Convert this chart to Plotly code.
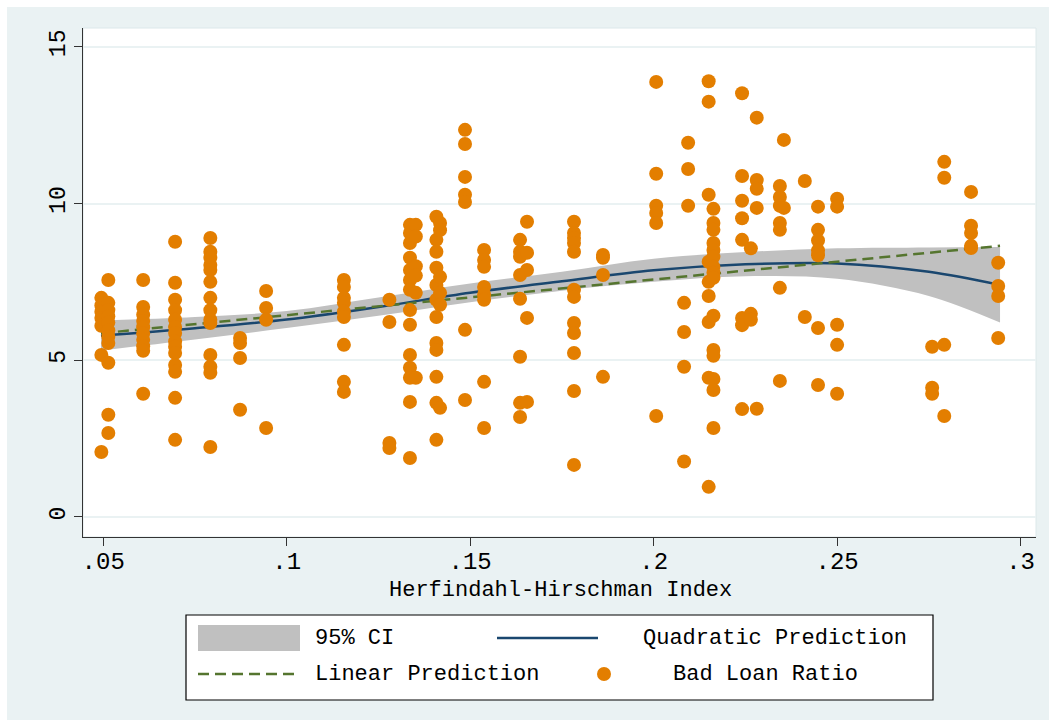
import plotly.graph_objects as go

# ---------------- data ----------------
hhi_groups = [0.0495, 0.0514, 0.0609, 0.0696, 0.0792, 0.0873, 0.0944, 0.1156,
              0.1280, 0.1336, 0.1352, 0.1408, 0.1418, 0.1486, 0.1538, 0.1636,
              0.1655, 0.1783, 0.1862, 0.2007, 0.2094, 0.2083, 0.2150, 0.2163,
              0.2241, 0.2265, 0.2281, 0.2344, 0.2355, 0.2412, 0.2448, 0.2500,
              0.2759, 0.2792, 0.2865, 0.2939]
bad_loan_groups = [
    [6.99, 6.75, 6.55, 6.35, 6.10, 5.17, 2.07],
    [7.56, 6.83, 6.60, 6.40, 6.20, 5.95, 5.75, 5.55, 4.92, 3.26, 2.68],
    [7.56, 6.70, 6.45, 6.25, 6.05, 5.85, 5.65, 5.45, 5.30, 3.93],
    [8.78, 7.47, 6.93, 6.60, 6.29, 6.06, 5.87, 5.60, 5.43, 5.23, 4.85, 4.63, 3.80, 2.46],
    [8.90, 8.46, 8.27, 8.04, 7.88, 7.50, 6.99, 6.60, 6.29, 6.19, 5.17, 4.79, 4.60, 2.23],
    [5.71, 5.55, 5.07, 3.42],
    [7.21, 6.67, 6.29, 2.84],
    [7.56, 7.34, 6.99, 6.83, 6.55, 6.38, 5.49, 4.31, 3.99],
    [6.93, 6.22, 2.36, 2.20],
    [9.32, 9.06, 8.74, 8.27, 7.88, 7.56, 7.25, 6.60, 6.13, 5.17, 4.76, 4.44, 3.67, 1.88],
    [9.32, 8.95, 8.00, 7.70, 7.15, 4.44],
    [9.58, 8.84, 8.46, 7.95, 7.40, 6.93, 6.38, 5.55, 5.33, 4.47, 3.64, 2.46],
    [9.38, 9.15, 7.66, 7.15, 6.77, 3.48],
    [12.35, 11.90, 10.85, 10.28, 10.05, 5.97, 3.73],
    [8.52, 8.20, 7.98, 7.34, 7.09, 6.93, 4.31, 2.84],
    [8.84, 8.46, 8.30, 7.72, 6.96, 5.11, 3.64, 3.19],
    [9.42, 8.43, 7.88, 6.35, 3.67],
    [9.42, 9.06, 8.90, 8.74, 8.46, 7.25, 7.02, 6.19, 5.87, 5.23, 4.02, 1.66],
    [8.36, 8.27, 7.72, 4.47],
    [13.88, 10.95, 9.93, 9.70, 9.38, 3.22],
    [11.94, 11.10, 9.93],
    [6.83, 5.90, 4.79, 1.77],
    [13.90, 13.25, 10.28, 8.14, 7.50, 7.05, 6.22, 4.44, 0.96],
    [9.83, 9.38, 9.16, 8.74, 8.52, 8.30, 7.98, 7.79, 7.63, 6.42, 5.33, 5.14, 4.40, 4.05, 2.84],
    [13.52, 10.88, 10.09, 9.53, 8.84, 6.35, 6.12, 3.44],
    [8.57, 6.48, 6.29],
    [12.74, 10.75, 10.47, 9.86, 3.45],
    [10.56, 10.21, 9.93, 9.38, 9.16, 7.31, 4.34],
    [12.03, 9.86],
    [10.72, 6.38],
    [9.90, 9.16, 8.82, 8.50, 8.35, 6.03, 4.21],
    [10.15, 9.90, 6.13, 5.49, 3.93],
    [5.43, 4.12, 3.93],
    [11.33, 10.82, 5.49, 3.22],
    [10.37, 9.29, 9.06, 8.65, 8.58],
    [8.11, 7.37, 7.05, 5.71],
]

fit_x = [0.0494, 0.075, 0.1, 0.125, 0.15, 0.175, 0.2, 0.225, 0.25, 0.275, 0.2944]
quad_pred = [5.78, 6.02, 6.30, 6.70, 7.15, 7.52, 7.87, 8.06, 8.09, 7.82, 7.40]
ci_upper = [6.27, 6.38, 6.57, 7.00, 7.45, 7.82, 8.24, 8.45, 8.57, 8.60, 8.61]
ci_lower = [5.31, 5.66, 6.03, 6.42, 6.85, 7.22, 7.50, 7.68, 7.60, 7.05, 6.20]

lin_x = [0.0494, 0.2944]
lin_pred = [5.86, 8.65]

x_tick_vals = [0.05, 0.1, 0.15, 0.2, 0.25, 0.3]
x_tick_text = [".05", ".1", ".15", ".2", ".25", ".3"]
y_tick_vals = [0, 5, 10, 15]

# ---------------- build ----------------
hhi = []
bad_loan = []
for xv, ys in zip(hhi_groups, bad_loan_groups):
    for yv in ys:
        hhi.append(xv)
        bad_loan.append(yv)

C_BG = "#EAF2F3"
C_CI = "#C0C0C0"
C_QUAD = "#1A476F"
C_LIN = "#55752F"
C_DOT = "#E37E00"
FONT = "Liberation Mono"

fig = go.Figure()
fig.add_trace(go.Scatter(x=fit_x, y=ci_upper, mode="lines", line=dict(width=0, color=C_CI, shape="spline"),
                         showlegend=False, hoverinfo="skip"))
fig.add_trace(go.Scatter(x=fit_x, y=ci_lower, mode="lines", line=dict(width=0, color=C_CI, shape="spline"),
                         fill="tonexty", fillcolor=C_CI, name="95% CI", showlegend=False))
fig.add_trace(go.Scatter(x=fit_x, y=quad_pred, mode="lines", line=dict(width=2.5, color=C_QUAD, shape="spline"),
                         name="Quadratic Prediction", showlegend=False))
fig.add_trace(go.Scatter(x=lin_x, y=lin_pred, mode="lines", line=dict(width=2.5, color=C_LIN, dash="11px,6px"),
                         name="Linear Prediction", showlegend=False))
fig.add_trace(go.Scatter(x=hhi, y=bad_loan, mode="markers",
                         marker=dict(size=14, color=C_DOT, line=dict(width=0)),
                         name="Bad Loan Ratio", showlegend=False))

# pixel geometry of the plot area
L, R, T, B = 83, 1036, 28, 537
W, H = 1056, 727
def fx(px):
    return (px - L) / (R - L)
def fy(py):
    return (B - py) / (B - T)

shapes = [
    # outer graph region
    dict(type="rect", xref="paper", yref="paper", x0=fx(7), x1=fx(1049), y0=fy(720), y1=fy(7),
         fillcolor=C_BG, line=dict(width=0), layer="below"),
    # plot region
    dict(type="rect", xref="paper", yref="paper", x0=0, x1=1, y0=0, y1=1,
         fillcolor="white", line=dict(width=1, color="#DCE8EA"), layer="below"),
    # legend box
    dict(type="rect", xref="paper", yref="paper", x0=fx(186), x1=fx(933), y0=fy(700), y1=fy(615),
         fillcolor="white", line=dict(width=1.2, color="black")),
    dict(type="rect", xref="paper", yref="paper", x0=fx(198), x1=fx(300), y0=fy(651), y1=fy(625),
         fillcolor=C_CI, line=dict(width=0)),
    dict(type="line", xref="paper", yref="paper", x0=fx(497), x1=fx(598), y0=fy(638), y1=fy(638),
         line=dict(width=2.5, color=C_QUAD)),
    dict(type="line", xref="paper", yref="paper", x0=fx(198), x1=fx(300), y0=fy(674), y1=fy(674),
         line=dict(width=2.5, color=C_LIN, dash="11px,6px")),
    dict(type="circle", xref="paper", yref="paper", x0=fx(597), x1=fx(611), y0=fy(681), y1=fy(667),
         fillcolor=C_DOT, line=dict(width=0)),
]

ann_font = dict(family=FONT, size=22, color="black")
annotations = [
    dict(text="Herfindahl-Hirschman Index", xref="paper", yref="paper", x=fx(560), y=fy(590),
         xanchor="center", yanchor="middle", showarrow=False, font=ann_font),
    dict(text="95% CI", xref="paper", yref="paper", x=fx(313), y=fy(638),
         xanchor="left", yanchor="middle", showarrow=False, font=ann_font),
    dict(text="Quadratic Prediction", xref="paper", yref="paper", x=fx(641), y=fy(638),
         xanchor="left", yanchor="middle", showarrow=False, font=ann_font),
    dict(text="Linear Prediction", xref="paper", yref="paper", x=fx(313), y=fy(674),
         xanchor="left", yanchor="middle", showarrow=False, font=ann_font),
    dict(text="Bad Loan Ratio", xref="paper", yref="paper", x=fx(671), y=fy(674),
         xanchor="left", yanchor="middle", showarrow=False, font=ann_font),
]

fig.update_layout(
    width=W, height=H,
    margin=dict(l=L, r=W - R, t=T, b=H - B),
    paper_bgcolor="white", plot_bgcolor="white",
    font=dict(family=FONT, color="black"),
    shapes=shapes, annotations=annotations,
    showlegend=False,
)
fig.update_xaxes(range=[0.0445, 0.3042], tickvals=x_tick_vals, ticktext=x_tick_text,
                 ticks="outside", ticklen=8, tickwidth=1.2, tickcolor="#333333",
                 showline=True, linecolor="#333333", linewidth=1.2,
                 showgrid=False, zeroline=False, tickfont=dict(family=FONT, size=24),
                 ticklabelstandoff=-6)
fig.update_yaxes(range=[-0.64, 15.6], tickvals=y_tick_vals,
                 ticks="outside", ticklen=8, tickwidth=1.2, tickcolor="#333333",
                 showline=True, linecolor="#333333", linewidth=1.2,
                 showgrid=True, gridcolor=C_BG, gridwidth=1.5, zeroline=False,
                 tickangle=-90, tickfont=dict(family=FONT, size=23))

fig.write_html("out.html", config={"displayModeBar": False},
               post_script="document.body.style.margin='0px';document.body.style.overflow='hidden';")
